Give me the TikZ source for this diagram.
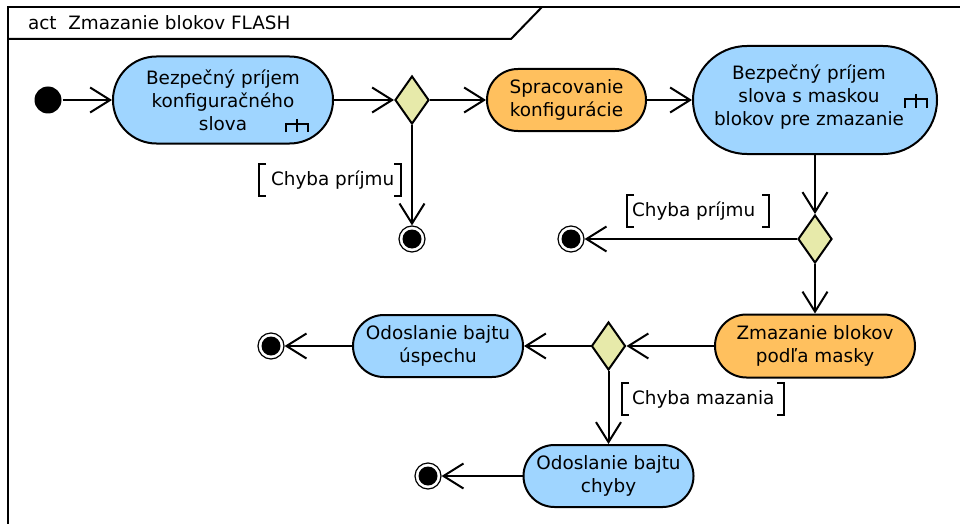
\documentclass[tikz,border=0pt]{standalone}
\usepackage{fontspec}
\setmainfont{DejaVu Sans}
\usetikzlibrary{shapes.geometric,arrows.meta}
\definecolor{actblue}{HTML}{9FD5FF}
\definecolor{actorange}{HTML}{FFC05E}
\definecolor{decfill}{HTML}{E7EAAA}
\newcommand{\dfont}{\fontsize{18.4}{23}\selectfont}
\begin{document}
\begin{tikzpicture}[x=1pt,y=-1pt,line width=2pt,
  every node/.style={font=\dfont},
  act/.style={draw, rectangle, inner sep=0pt, align=center},
  dec/.style={draw, diamond, fill=decfill, inner sep=0pt, minimum width=34pt, minimum height=48pt},
  initnode/.style={circle, fill=black, inner sep=0pt, minimum size=27pt},
  finalnode/.style={circle, draw, fill=white, line width=1.2pt, inner sep=0pt, minimum size=26pt,
     path picture={\fill[black] (path picture bounding box.center) circle (9.5pt);}},
  arr/.style={-{Straight Barb[length=20pt,width=25pt]}},
  rake/.style={line width=1.8pt},
  gbox/.style={inner sep=0pt, minimum height=30pt},
  brk/.style={line width=1.8pt},
  gtext/.style={anchor=west, inner sep=0pt}]
\useasboundingbox (0,0) rectangle (960,524);
% frame
\draw (8,540) -- (8,7) -- (975,7);
\draw (8,39) -- (511,39) -- (542,7);
\node[anchor=west, inner sep=0pt] (title) at (27,23) {act\hspace{11.7pt}Zmazanie blokov FLASH};
% nodes
\node[initnode] (s) at (48,100) {};
\node[act, fill=actblue, minimum width=220pt, minimum height=87pt, rounded corners=43.4pt] (a1) at (223,100) {Bezpečný príjem\\konfiguračného\\slova};
\node[dec] (d1) at (412,100) {};
\node[finalnode] (f1) at (412,239) {};
\node[act, fill=actorange, minimum width=159pt, minimum height=62pt, rounded corners=30.9pt] (a2) at (566.5,100) {Spracovanie\\konfigurácie};
\node[act, fill=actblue, minimum width=244pt, minimum height=108pt, rounded corners=53.9pt] (a3) at (815,100) {};
\node[align=center, inner sep=0pt] (a3t) at (809,97) {Bezpečný príjem\\slova s maskou\\blokov pre zmazanie};
\node[dec] (d2) at (815,239) {};
\node[finalnode] (f2) at (571,239) {};
\node[act, fill=actorange, minimum width=200pt, minimum height=63pt, rounded corners=31.4pt] (a4) at (815,346) {Zmazanie blokov\\podľa masky};
\node[dec] (d3) at (608.5,346) {};
\node[act, fill=actblue, minimum width=170pt, minimum height=62pt, rounded corners=30.9pt] (a5) at (438,346) {Odoslanie bajtu\\úspechu};
\node[finalnode] (f3) at (271,346) {};
\node[act, fill=actblue, minimum width=170pt, minimum height=62pt, rounded corners=30.9pt] (a6) at (608.5,476) {Odoslanie bajtu\\chyby};
\node[finalnode] (f4) at (428,476) {};
% rakes
\draw[rake, shift={(a1.center)}] (74,19) -- (74,32) (63,32) -- (63,24) -- (85,24) -- (85,32);
\draw[rake, shift={(a3.center)}] (101,-6) -- (101,8) (90,8) -- (90,-1) -- (112,-1) -- (112,8);
% edges
\draw[arr] (s) -- (a1);
\draw[arr] (a1) -- (d1);
\draw[arr] (d1) -- (a2);
\draw[arr] (d1) -- (f1);
\draw[arr] (a2) -- (a3);
\draw[arr] (a3) -- (d2);
\draw[arr] (d2) -- (f2);
\draw[arr] (d2) -- (a4);
\draw[arr] (a4) -- (d3);
\draw[arr] (d3) -- (a5);
\draw[arr] (d3) -- (a6);
\draw[arr] (a5) -- (f3);
\draw[arr] (a6) -- (f4);
% guards
\node[gbox, minimum width=140pt] (g1) at (330,180) {};
\node[gtext] (g1t) at (270,180) {Chyba príjmu};
\node[gbox, minimum width=140pt] (g2) at (698,211) {};
\node[gtext] (g2t) at (631,211) {Chyba príjmu};
\node[gbox, minimum width=160pt] (g3) at (703,399) {};
\node[gtext] (g3t) at (631,399) {Chyba mazania};
\foreach \g in {g1,g2,g3}{
  \draw[brk] ([xshift=7pt]\g.north west) -- (\g.north west) -- (\g.south west) -- ([xshift=7pt]\g.south west);
  \draw[brk] ([xshift=-7pt]\g.north east) -- (\g.north east) -- (\g.south east) -- ([xshift=-7pt]\g.south east);
}
\end{tikzpicture}
\end{document}
